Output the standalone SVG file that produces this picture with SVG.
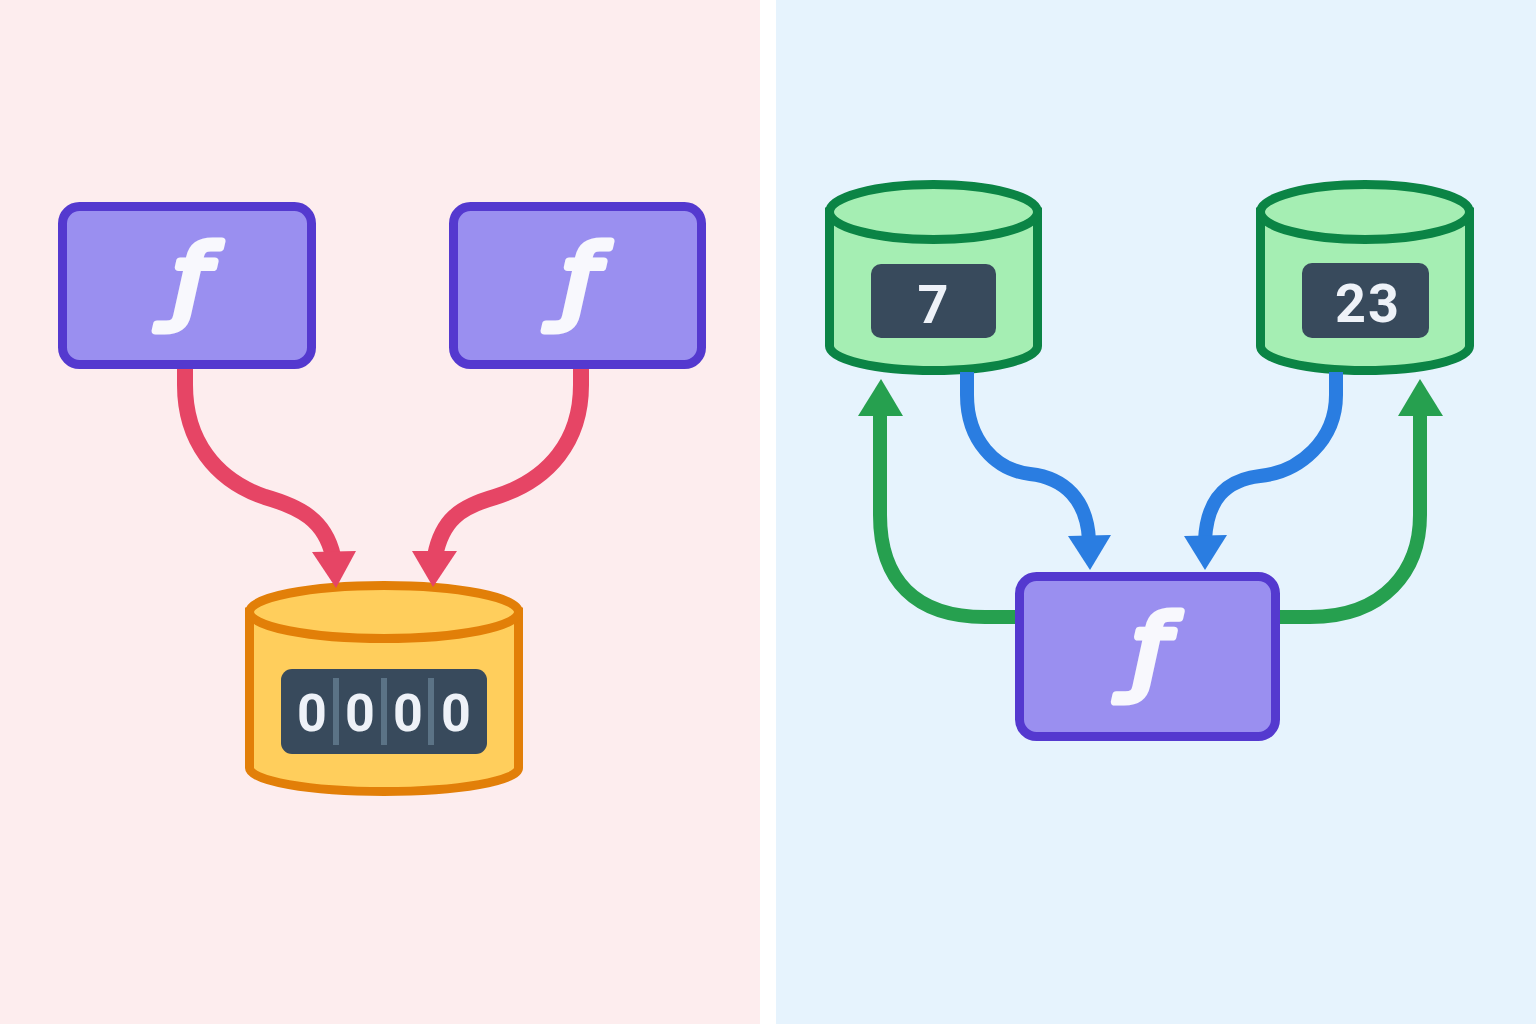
<svg xmlns="http://www.w3.org/2000/svg" width="1536" height="1024" viewBox="0 0 1536 1024">
<style>
.fn{fill:#9a8ff0;stroke:#5439cf;stroke-width:9}
.f{font-family:"DejaVu Sans",sans-serif;font-style:italic;font-size:92px;fill:#f8f8fd;stroke:#f8f8fd;stroke-width:7;stroke-linejoin:round;stroke-linecap:round;text-anchor:middle}
.conn{fill:none}
.red{stroke:#e64565;stroke-width:16}
.blue{stroke:#2a7de1;stroke-width:14}
.green{stroke:#26a04f;stroke-width:14}
.ycyl{fill:#ffce5c;stroke:#e27f08;stroke-width:9}
.gcyl{fill:#a5eeb3;stroke:#0b8445;stroke-width:9}
.disp{fill:#384a5c}
.num{font-family:Roboto,"Liberation Sans",sans-serif;font-weight:700;fill:#eef2f8;text-anchor:middle}
</style>
<rect x="0" y="0" width="1536" height="1024" fill="#ffffff"/>
<rect x="0" y="0" width="760" height="1024" fill="#fdedee"/>
<rect x="776" y="0" width="760" height="1024" fill="#e6f3fd"/>
<g id="fn-left-1"><rect class="fn" x="62.5" y="206.500" width="249" height="158" rx="17"/><text class="f" transform="translate(191 312) scale(1.15 1)">ƒ</text></g>
<g id="fn-left-2"><rect class="fn" x="453.500" y="206.500" width="248" height="158" rx="17"/><text class="f" transform="translate(580 312) scale(1.15 1)">ƒ</text></g>
<g id="fn-right"><rect class="fn" x="1019.500" y="576.500" width="256" height="160" rx="17"/><text class="f" transform="translate(1150 683) scale(1.15 1.03)">ƒ</text></g>
<g id="counter-total">
<path class="ycyl" d="M249.500 612V768A134.500 23.500 0 0 0 518.500 768V612Z"/>
<ellipse class="ycyl" cx="384" cy="612" rx="134.500" ry="26.500"/>
<rect class="disp" x="281" y="669" width="206" height="85" rx="11"/>
<rect x="333" y="678" width="6" height="67" fill="#5b7386"/><rect x="381" y="678" width="6" height="67" fill="#5b7386"/><rect x="428" y="678" width="6" height="67" fill="#5b7386"/>
<text class="num" font-size="52" x="312" y="731">0</text><text class="num" font-size="52" x="360" y="731">0</text><text class="num" font-size="52" x="408" y="731">0</text><text class="num" font-size="52" x="456" y="731">0</text>
</g>
<g id="counter-7">
<path class="gcyl" d="M829.500 212V346A104 24.500 0 0 0 1037.500 346V212Z"/>
<ellipse class="gcyl" cx="933.500" cy="212" rx="104" ry="27.500"/>
<rect class="disp" x="871" y="264" width="125" height="74" rx="10"/>
<text class="num" font-size="54" x="933" y="323">7</text>
</g>
<g id="counter-23">
<path class="gcyl" d="M1260.500 212V346A104.500 24.500 0 0 0 1469.500 346V212Z"/>
<ellipse class="gcyl" cx="1365" cy="212" rx="104.500" ry="27.500"/>
<rect class="disp" x="1302" y="263" width="127" height="75" rx="10"/>
<text class="num" font-size="54" x="1368" y="322" letter-spacing="2">23</text>
</g>
<g id="connectors">
<path class="conn red" d="M185 369V385C185 440 215 480 265 497C300 507 325 520 333 556"/>
<polygon points="312,552 356,551 336,588" fill="#e64565"/>
<path class="conn red" d="M581 369V385C581 440 550 480 495 497C460 507 442 520 435 556"/>
<polygon points="412,551 457,551 433,587" fill="#e64565"/>
<path class="conn blue" d="M967 372V395C967 440 995 470 1030 474C1065 478 1087 500 1089 540"/>
<polygon points="1068,536 1111,535 1090,570" fill="#2a7de1"/>
<path class="conn blue" d="M1336 372V395C1336 440 1300 472 1260 476C1225 480 1207 500 1205 540"/>
<polygon points="1184,536 1227,535 1205,570" fill="#2a7de1"/>
<path class="conn green" d="M1015 617H985C915 617 880 580 880 515V412"/>
<polygon points="858,416 903,416 881,379" fill="#26a04f"/>
<path class="conn green" d="M1280 617H1310C1385 617 1420 570 1420 515V412"/>
<polygon points="1398,416 1443,416 1420,379" fill="#26a04f"/>
</g>
</svg>
